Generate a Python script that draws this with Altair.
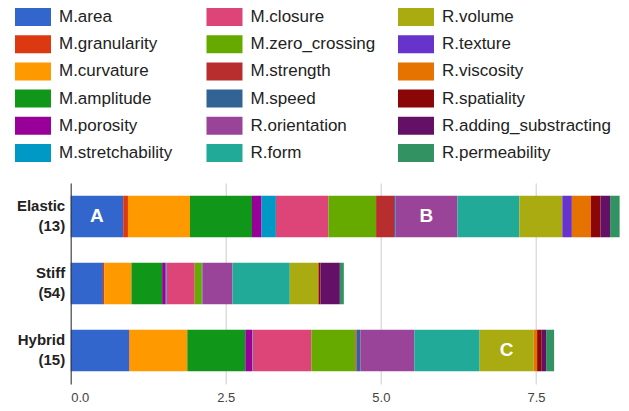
import altair as alt
import pandas as pd

groups = ["Elastic (13)", "Stiff (54)", "Hybrid (15)"]
categories = [
    "M.area", "M.granularity", "M.curvature", "M.amplitude", "M.porosity",
    "M.stretchability", "M.closure", "M.zero_crossing", "M.strength", "M.speed",
    "R.orientation", "R.form", "R.volume", "R.texture", "R.viscosity",
    "R.spatiality", "R.adding_substracting", "R.permeability",
]
colors = [
    "#3366CC", "#DC3912", "#FF9900", "#109618", "#990099", "#0099C6",
    "#DD4477", "#66AA00", "#B82E2E", "#316395", "#994499", "#22AA99",
    "#AAAA11", "#6633CC", "#E67300", "#8B0707", "#651067", "#329262",
]
elastic = [0.846, 0.077, 1.0, 1.0, 0.154, 0.231, 0.846, 0.769, 0.29, 0.02,
           1.0, 1.0, 0.692, 0.154, 0.308, 0.154, 0.154, 0.154]
stiff = [0.52, 0.019, 0.44, 0.495, 0.058, 0.015, 0.452, 0.113, 0.0, 0.012,
         0.484, 0.924, 0.463, 0.0, 0.0, 0.032, 0.312, 0.064]
hybrid = [0.94, 0.01, 0.93, 0.935, 0.108, 0.01, 0.946, 0.71, 0.02, 0.06,
          0.87, 1.054, 0.871, 0.0, 0.055, 0.074, 0.071, 0.129]
annotations = [("Elastic (13)", "M.area", "A"),
               ("Elastic (13)", "R.orientation", "B"),
               ("Hybrid (15)", "R.volume", "C")]
x_ticks = [0, 2.5, 5, 7.5]
x_max = 8.85

# stacked table
rows = []
for g, vals in zip(groups, [elastic, stiff, hybrid]):
    s = 0.0
    for i, (c, v) in enumerate(zip(categories, vals)):
        rows.append({"group": g, "cat": c, "order": i, "value": v,
                     "start": s, "end": s + v})
        s += v
df = pd.DataFrame(rows)
df = df[df.value > 0]

ann = []
for g, c, lab in annotations:
    r = df[(df.group == g) & (df.cat == c)].iloc[0]
    ann.append({"group": g, "label": lab, "mid": (r.start + r.end) / 2})
ann_df = pd.DataFrame(ann)

# legend grid (3 columns x 6 rows, column-major)
leg_df = pd.DataFrame({"cat": categories,
                       "col": [i // 6 for i in range(len(categories))],
                       "row": [i % 6 for i in range(len(categories))]})

color_scale = alt.Scale(domain=categories, range=colors)
x_scale = alt.Scale(domain=[0, x_max], nice=False, zero=True)
y_scale = alt.Scale(domain=groups, paddingInner=0.38, paddingOuter=0.19)

bars = alt.Chart(df).mark_bar().encode(
    x=alt.X("start:Q", scale=x_scale, title=None,
            axis=alt.Axis(values=x_ticks, format=".1f", grid=True, gridColor="#cccccc",
                          domain=False, ticks=False, labelFontSize=13,
                          labelColor="#444444", labelPadding=8)),
    x2="end:Q",
    y=alt.Y("group:N", scale=y_scale, title=None, sort=groups,
            axis=alt.Axis(labelExpr="split(datum.label, ' ')", labelFontWeight="bold",
                          labelFontSize=15, labelColor="#222222", labelLineHeight=20,
                          labelOffset=-10,
                          labelPadding=6, ticks=False, domain=True, domainColor="#333333",
                          domainWidth=1, zindex=1)),
    color=alt.Color("cat:N", scale=color_scale, legend=None),
)

labels = alt.Chart(ann_df).mark_text(color="white", fontWeight="bold", fontSize=19,
                                     baseline="middle", align="center").encode(
    x=alt.X("mid:Q", scale=x_scale),
    y=alt.Y("group:N", scale=y_scale, sort=groups),
    text="label:N",
)

main = alt.layer(bars, labels)

leg_x = alt.Scale(domain=[0, 2], range=[-37.7, 345.3])
leg_y = alt.Scale(domain=[0, 5], range=[-166, -30])

leg_sym = alt.Chart(leg_df).mark_point(shape="M-1,-0.5H1V0.5H-1Z", size=1296,
                                       filled=True, opacity=1, strokeWidth=0).encode(
    x=alt.X("col:Q", scale=leg_x, axis=None),
    y=alt.Y("row:Q", scale=leg_y, axis=None),
    color=alt.Color("cat:N", scale=color_scale, legend=None),
)
leg_txt = alt.Chart(leg_df).mark_text(align="left", baseline="middle", dx=26,
                                      fontSize=17, color="#222222").encode(
    x=alt.X("col:Q", scale=leg_x, axis=None),
    y=alt.Y("row:Q", scale=leg_y, axis=None),
    text="cat:N",
)
legend = alt.layer(leg_sym, leg_txt)

chart = alt.layer(main, legend).resolve_scale(x="independent", y="independent").properties(
    width=549, height=201,
    autosize=alt.AutoSizeParams(type="none"),
    padding={"left": 62.7, "top": 175, "right": 1, "bottom": 24},
).configure(font="Liberation Sans").configure_view(stroke=None)

chart.save("out.html", embed_options={"renderer": "svg", "actions": False})
